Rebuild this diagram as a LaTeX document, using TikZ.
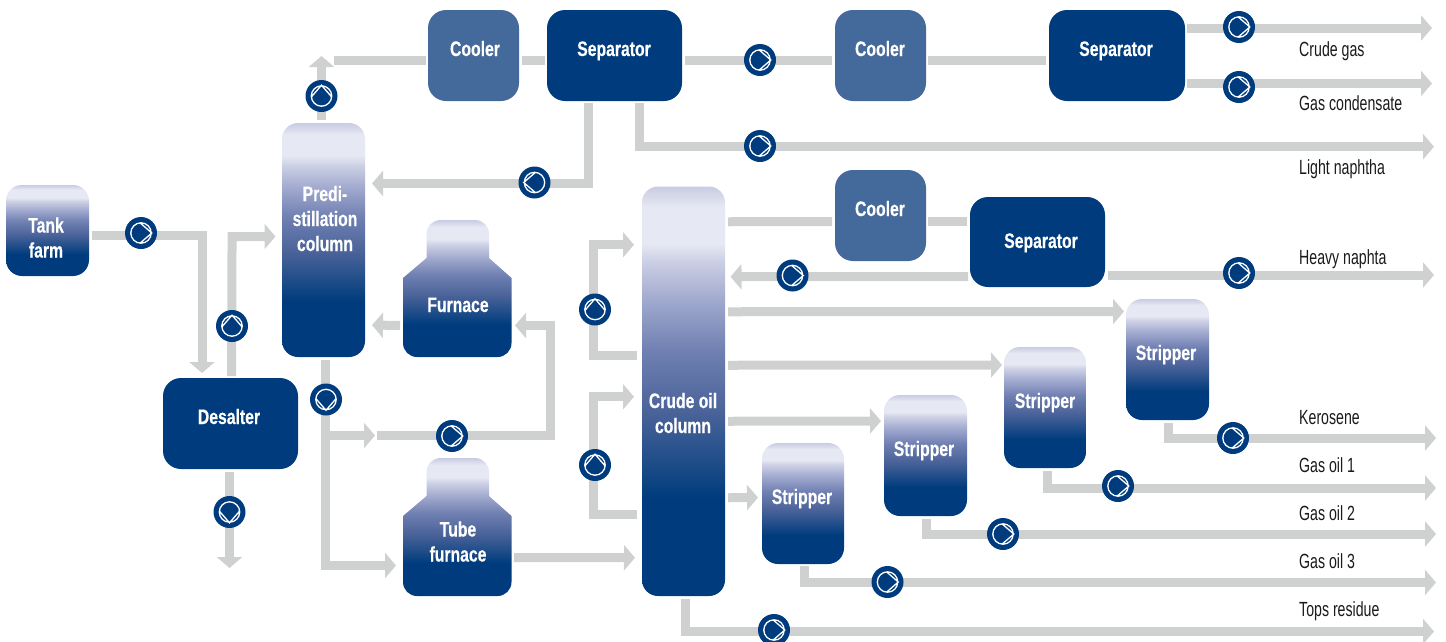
\documentclass[tikz,border=0pt]{standalone}
\usepackage{fontspec}
\setmainfont[FakeStretch=.69]{Liberation Sans}
\newfontfamily\boxfont[FakeStretch=.75,FakeBold=.3]{Liberation Sans}
\usetikzlibrary{arrows.meta,calc,backgrounds}
\definecolor{dk}{HTML}{003C7D}
\definecolor{cool}{HTML}{44699B}
\definecolor{flowc}{HTML}{CFD1D0}
\definecolor{txt}{HTML}{1A1A1A}
\definecolor{g0}{HTML}{C9CBE3}
\definecolor{g1}{HTML}{E6E8F3}
\definecolor{g2}{HTML}{CDD1E5}
\definecolor{g3}{HTML}{A4ACD0}
\definecolor{g4}{HTML}{7080B2}
\definecolor{g5}{HTML}{4A6399}
\definecolor{g6}{HTML}{0E4482}
\pgfdeclareverticalshading{proc}{100bp}{color(0bp)=(dk); color(37bp)=(dk); color(39bp)=(g6); color(47.5bp)=(g5); color(55bp)=(g4); color(61.5bp)=(g3); color(66bp)=(g2); color(68bp)=(g1); color(72.5bp)=(g1); color(75bp)=(g0); color(100bp)=(g0)}
\tikzset{
  flow/.style={draw=flowc,line width=9pt,line join=miter,line cap=butt},
  flowtip/.style={flow,-{Triangle[width=25pt,length=11pt]}},
  unitbox/.style={rectangle,rounded corners=18pt,inner sep=0pt,outer sep=0pt},
  darkbox/.style={unitbox,fill=dk},
  coolbox/.style={unitbox,fill=cool},
  gradbox/.style={unitbox,rounded corners=16pt,shade,shading=proc},
  furnbody/.style={shade,shading=proc},
  ghost/.style={rectangle,inner sep=0pt,outer sep=0pt},
  boxlabel/.style={text=white,align=center,inner sep=0pt,font=\boxfont\bfseries\fontsize{21}{25}\selectfont},
  prodlabel/.style={text=txt,anchor=base west,inner sep=0pt,font=\fontsize{20.5}{24}\selectfont},
  pumpball/.style={circle,fill=dk,minimum size=32pt,inner sep=0pt,outer sep=0pt},
  pumpmark/.style={draw=white,line width=1.3pt,line join=miter}
}
\newcommand{\unit}[6]{\node[#1,minimum width={(#5-#3)*1pt},minimum height={(#6-#4)*1pt}] (#2) at ({(#3+#5)/2},{(#4+#6)/2}) {};}
\newcommand{\pumpat}[4]{\node[pumpball] (#1) at (#2,#3) {};
  \draw[pumpmark,shift={(#1.center)},rotate=#4] (0,0) circle (10.2pt) (-1pt,-10.2pt) -- (10.8pt,0pt) -- (-1pt,10.2pt);}
\newcommand{\furnace}[2]{\path[furnbody] (426.5,#1+38) [rounded corners=14pt] -- (426.5,#1) -- (489,#1) [sharp corners] -- (489,#1+38) -- (511.5,#1+58) [rounded corners=14pt] -- (511.5,#1+#2) -- (403,#1+#2) [sharp corners] -- (403,#1+58) -- cycle;}
\begin{document}
\begin{tikzpicture}[x=1pt,y=-1pt]
\useasboundingbox (0,0) rectangle (1446,641);
% units
\unit{gradbox}{tank}{6}{185}{89}{276}
\unit{darkbox}{desalter}{163}{378}{298}{469}
\unit{gradbox}{predi}{282}{123}{365}{357}
\furnace{220}{137}
\unit{ghost}{furn}{403}{220}{511}{357}
\furnace{458}{138}
\unit{ghost}{tube}{403}{458}{511}{596}
\unit{coolbox}{cooler1}{428}{10}{519}{101}
\unit{darkbox}{sep1}{547}{10}{682}{101}
\unit{coolbox}{cooler2}{835}{10}{926}{101}
\unit{darkbox}{sep2}{1049}{10}{1185}{101}
\unit{gradbox}{crude}{642}{186.5}{725}{596}
\unit{coolbox}{cooler3}{835}{170}{926}{261}
\unit{darkbox}{sep3}{970}{197}{1105}{287}
\unit{gradbox}{strip1}{1126}{299}{1209}{420}
\unit{gradbox}{strip2}{1004}{347}{1086}{468}
\unit{gradbox}{strip3}{884}{395}{967}{516}
\unit{gradbox}{strip4}{762}{443}{844}{564}
% unit labels
\node[boxlabel] (ltank) at (46,237.5) {Tank\\farm};
\node[boxlabel,anchor=base] (ldesalter) at (229,424) {Desalter};
\node[boxlabel] (lpredi) at (325,218.5) {Predi-\\stillation\\column};
\node[boxlabel,anchor=base] (lfurn) at (458,312) {Furnace};
\node[boxlabel] (ltube) at (458,541.5) {Tube\\furnace};
\node[boxlabel,anchor=base] (lcool1) at (475,56) {Cooler};
\node[boxlabel,anchor=base] (lsep1) at (614,56) {Separator};
\node[boxlabel,anchor=base] (lcool2) at (880,56) {Cooler};
\node[boxlabel,anchor=base] (lsep2) at (1116,56) {Separator};
\node[boxlabel] (lcrude) at (683,413) {Crude oil\\column};
\node[boxlabel,anchor=base] (lcool3) at (880,216) {Cooler};
\node[boxlabel,anchor=base] (lsep3) at (1041,248) {Separator};
\node[boxlabel,anchor=base] (lstrip1) at (1166,360) {Stripper};
\node[boxlabel,anchor=base] (lstrip2) at (1045,408) {Stripper};
\node[boxlabel,anchor=base] (lstrip3) at (924,456) {Stripper};
\node[boxlabel,anchor=base] (lstrip4) at (802,504) {Stripper};
% product labels
\node[prodlabel] (crudegas) at (1299,56) {Crude gas};
\node[prodlabel] (gascond) at (1299,110) {Gas condensate};
\node[prodlabel] (lightn) at (1299,174) {Light naphtha};
\node[prodlabel] (heavyn) at (1299,264) {Heavy naphta};
\node[prodlabel] (kero) at (1299,424) {Kerosene};
\node[prodlabel] (go1) at (1299,472) {Gas oil 1};
\node[prodlabel] (go2) at (1299,520) {Gas oil 2};
\node[prodlabel] (go3) at (1299,568) {Gas oil 3};
\node[prodlabel] (tops) at (1299,616) {Tops residue};
% pumps
\pumpat{p1}{141}{233}{0}
\pumpat{p2}{232}{326}{90}
\pumpat{p3}{229.5}{512}{-90}
\pumpat{p4}{321.5}{96}{90}
\pumpat{p5}{534.5}{182.5}{180}
\pumpat{p6}{326}{399.5}{-90}
\pumpat{p7}{452}{436}{0}
\pumpat{p8}{595}{309.5}{90}
\pumpat{p9}{595}{465}{90}
\pumpat{p10}{760}{60}{0}
\pumpat{p11}{760}{146}{0}
\pumpat{p12}{1239}{27}{0}
\pumpat{p13}{1239}{87}{0}
\pumpat{p14}{792.5}{275.5}{0}
\pumpat{p15}{1239}{273}{0}
\pumpat{p16}{1233}{438}{0}
\pumpat{p17}{1118}{486}{0}
\pumpat{p18}{1003}{534}{0}
\pumpat{p19}{887.5}{582}{0}
\pumpat{p20}{774}{630}{0}
% connectors
\begin{scope}[on background layer]
% tank to desalter
\draw[flowtip] ($(tank.east)+(3,5)$) -- ($(p1)+(0,2.5)$) -| ($(desalter.north)+(-28.5,-5)$);
% desalter to predi
\draw[flowtip] ($(desalter.north)+(1,-2)$) -- (p2.center |- lpredi.south) |- ($(predi.west)+(-6.5,-3.5)$);
% desalter out
\draw[flowtip] ($(desalter.south)+(-1,3)$) -- ($(p3)+(0,50)$) -- ($(p3)+(0,56)$);
% predi top
\draw[flowtip] ($(predi.north)+(-2,-3)$) -- (p4.center) -- ($(p4)+(0,-40)$);
\draw[flow] ($(p4)+(12.5,-36)$) -- ($(cooler1.west)+(-2.5,4.5)$);
\draw[flow] ($(cooler1.east)+(3,4.5)$) -- ($(sep1.west)+(-2,4.5)$);
\draw[flow] ($(sep1.east)+(3,4.5)$) -- (p10.center) -- ($(cooler2.west)+(-3,4.5)$);
\draw[flow] ($(cooler2.east)+(2,4.5)$) -- ($(sep2.west)+(-3,4.5)$);
% separator 1 back and light naphtha
\draw[flowtip] ($(sep1.south)+(-26.5,2)$) |- ($(predi.east)+(7,-56.5)$);
\draw[flowtip] ($(sep1.south)+(25,2)$) |- ($(lightn.west)+(135,-22)$);
% separator 2 outputs
\draw[flowtip] ($(sep2.east)+(2,-27.5)$) -- ($(crudegas.base west)+(133,-28)$);
\draw[flowtip] ($(sep2.east)+(2,28)$) -- ($(gascond.base west)+(133,-26.5)$);
% predi bottom
\draw[flowtip] ($(predi.south)+(2,3)$) |- ($(tube.west)+(-7,38.5)$);
\draw[flowtip] ($(predi.south)+(2,60)$) |- ($(p7)+(-77,-0.5)$);
\draw[flowtip] ($(p7)+(-75,-0.5)$) -| ($(furn.east)+(39,37)$) -- ($(furn.east)+(4,37)$);
\draw[flowtip] ($(furn.west)+(-3,37)$) -- ($(predi.east)+(7,85)$);
% tube furnace to crude
\draw[flowtip] ($(tube.east)+(3,30.5)$) -- ($(crude.west)+(-7,166.5)$);
% loops
\draw[flowtip] ($(crude.west)+(-5.5,-35.5)$) -- ($(crude.west)+(-48.7,-35.5)$) -- ($(crude.west)+(-48.7,-146.5)$) -- ($(crude.west)+(-8,-146.5)$);
\draw[flowtip] ($(crude.west)+(-5.5,123.5)$) -- ($(crude.west)+(-48.7,123.5)$) -- ($(crude.west)+(-48.7,5.5)$) -- ($(crude.west)+(-8,5.5)$);
% crude outputs
\draw[flow] ($(crude.east)+(3,-169.5)$) -- ($(cooler3.west)+(-3,6)$);
\draw[flow] ($(cooler3.east)+(2,6)$) -- ($(sep3.west)+(-3,-20.5)$);
\draw[flowtip] ($(sep3.west)+(-2,34.5)$) -- ($(crude.east)+(5.5,-114.5)$);
\draw[flowtip] ($(crude.east)+(3,-79.5)$) -- ($(strip1.west)+(-2,-48)$);
\draw[flowtip] ($(crude.east)+(3,-26)$) -- ($(strip2.west)+(-2,-42.5)$);
\draw[flowtip] ($(crude.east)+(3,30)$) -- ($(strip3.west)+(-3,-34.5)$);
\draw[flowtip] ($(crude.east)+(3,106.5)$) -- ($(strip4.west)+(-4,-6)$);
% heavy naphtha
\draw[flowtip] ($(sep3.east)+(3,33)$) -- ($(heavyn.base west)+(135,11)$);
% stripper outputs
\draw[flowtip] ($(strip1.south)+(1,3)$) |- ($(kero.base west)+(137,14)$);
\draw[flowtip] ($(strip2.south)+(2,3)$) |- ($(go1.base west)+(137,16)$);
\draw[flowtip] ($(strip3.south)+(0.5,3)$) |- ($(go2.base west)+(137,14)$);
\draw[flowtip] ($(strip4.south)+(1.5,2)$) |- ($(go3.base west)+(137,14.5)$);
\draw[flowtip] ($(crude.south)+(1.5,3)$) |- ($(tops.base west)+(135,15.5)$);
\end{scope}
\end{tikzpicture}
\end{document}
